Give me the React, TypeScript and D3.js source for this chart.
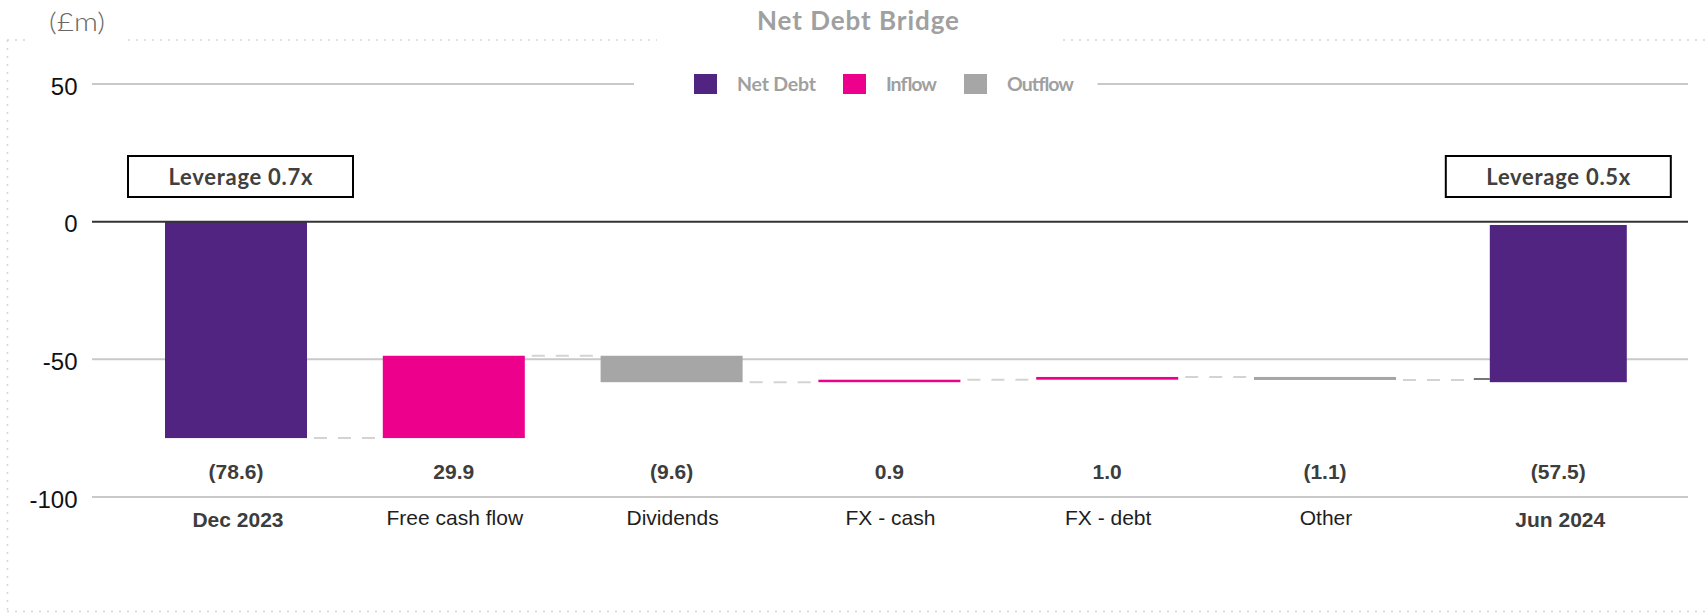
import React from "react";
import * as d3 from "d3";

// ---- data ----
const categories = ["Dec 2023", "Free cash flow", "Dividends", "FX - cash", "FX - debt", "Other", "Jun 2024"];
const valueLabels = ["(78.6)", "29.9", "(9.6)", "0.9", "1.0", "(1.1)", "(57.5)"];
const barStart = [0, -78.6, -48.7, -58.3, -57.4, -56.4, -1.2];
const barEnd = [-78.6, -48.7, -58.3, -57.4, -56.4, -57.5, -58.3];
const barKind = ["Net Debt", "Inflow", "Outflow", "Inflow", "Inflow", "Outflow", "Net Debt"];
const totalCategories = ["Dec 2023", "Jun 2024"];
const yTicks = [50, 0, -50, -100];
const yTickLabels = ["50", "0", "-50", "-100"];
const legendNames = ["Net Debt", "Inflow", "Outflow"];
const leverageCategories = ["Dec 2023", "Jun 2024"];
const leverageLabels = ["Leverage 0.7x", "Leverage 0.5x"];
const title = "Net Debt Bridge";
const unitLabel = "(£m)";

const colors: Record<string, string> = {
  "Net Debt": "#512481",
  Inflow: "#ec008c",
  Outflow: "#a6a6a6",
};

const W = 1707;
const H = 613;

export default function App() {
  const y = d3.scaleLinear().domain([-100, 50]).range([497, 84]);
  const idx = d3.scaleLinear().domain([0, 5, 6]).range([236, 1325, 1558.3]);
  const xc = (c: string) => idx(categories.indexOf(c));
  const barW = (c: string) => (c === "Jun 2024" ? 137 : 142);

  const gridLeft = 92;
  const gridRight = 1688;

  const legendWidths = [79, 51, 67];
  const legendItems: { name: string; sx: number; tx: number; w: number }[] = [];
  let lx = 694;
  legendNames.forEach((n, i) => {
    legendItems.push({ name: n, sx: lx, tx: lx + 43, w: legendWidths[i] });
    lx = lx + 43 + legendWidths[i] + 27;
  });

  const centuryFont = "Lato, 'Noto Sans', sans-serif";
  const arialFont = "'Liberation Sans', Arial, sans-serif";

  return (
    <svg
      width={W}
      height={H}
      viewBox={`0 0 ${W} ${H}`}
      style={{ position: "absolute", left: 0, top: 0, background: "#fff" }}
    >
      {/* faint slide dotted frame */}
      <g stroke="#d6d6d6" strokeWidth={1.5} strokeDasharray="2,6" fill="none">
        <line x1={7} y1={40} x2={27} y2={40} />
        <line x1={128} y1={40} x2={657} y2={40} />
        <line x1={1063} y1={40} x2={W} y2={40} />
        <line x1={7.5} y1={40} x2={7.5} y2={612} />
        <line x1={7} y1={611.5} x2={W} y2={611.5} />
      </g>

      {/* title + unit */}
      <text
        x={858}
        y={29.5}
        textAnchor="middle"
        fontFamily={centuryFont}
        fontWeight={700}
        fontSize={26}
        fill="#a0a0a0"
        textLength={202}
      >
        {title}
      </text>
      <text
        x={49}
        y={30.5}
        fontFamily={centuryFont}
        fontWeight={300}
        fontSize={26}
        fill="#666"
        textLength={56}
        lengthAdjust="spacingAndGlyphs"
      >
        {unitLabel}
      </text>

      {/* gridlines */}
      {yTicks.map((t, i) => {
        if (t === 0) return null;
        if (t === 50) {
          return (
            <g key={i} stroke="#c9c9c9" strokeWidth={2}>
              <line x1={gridLeft} x2={634} y1={y(t)} y2={y(t)} />
              <line x1={1097.5} x2={gridRight} y1={y(t)} y2={y(t)} />
            </g>
          );
        }
        return <line key={i} x1={gridLeft} x2={gridRight} y1={y(t)} y2={y(t)} stroke="#c9c9c9" strokeWidth={2} />;
      })}

      {/* tick labels */}
      {yTicks.map((t, i) => (
        <text
          key={i}
          x={77.5}
          y={y(t) + 10.5}
          textAnchor="end"
          fontFamily={arialFont}
          fontSize={24}
          fill="#111"
        >
          {yTickLabels[i]}
        </text>
      ))}

      {/* connectors */}
      {categories.slice(0, -1).map((c, i) => {
        const next = categories[i + 1];
        const x1 = xc(c) + barW(c) / 2;
        const x2 = xc(next) - barW(next) / 2;
        const yy = y(barEnd[i]);
        const last = i === categories.length - 2;
        return (
          <g key={i}>
            <line
              x1={x1}
              x2={last ? x2 - 17 : x2}
              y1={yy}
              y2={yy}
              stroke="#d3d3d3"
              strokeWidth={2}
              strokeDasharray="13,11"
              strokeDashoffset={17}
            />
            {last && <line x1={x2 - 16} x2={x2} y1={yy - 1} y2={yy - 1} stroke="#777" strokeWidth={2} />}
          </g>
        );
      })}

      {/* bars */}
      {categories.map((c, i) => {
        const top = Math.max(barStart[i], barEnd[i]);
        const bot = Math.min(barStart[i], barEnd[i]);
        const w = barW(c);
        return (
          <rect
            key={c}
            x={xc(c) - w / 2}
            y={y(top)}
            width={w}
            height={Math.max(1, y(bot) - y(top))}
            fill={colors[barKind[i]]}
          />
        );
      })}

      {/* zero line */}
      <line x1={gridLeft} x2={gridRight} y1={y(0)} y2={y(0)} stroke="#333" strokeWidth={2} />

      {/* value labels */}
      {categories.map((c, i) => (
        <text
          key={c}
          x={xc(c)}
          y={479}
          textAnchor="middle"
          fontFamily={arialFont}
          fontWeight={700}
          fontSize={21}
          fill="#3d3d3d"
        >
          {valueLabels[i]}
        </text>
      ))}

      {/* category labels */}
      {categories.map((c) => {
        const bold = totalCategories.includes(c);
        return (
          <text
            key={c}
            x={xc(c) + (bold ? 2 : 1)}
            y={bold ? 527 : 525}
            textAnchor="middle"
            fontFamily={arialFont}
            fontWeight={bold ? 700 : 400}
            fontSize={21}
            fill={bold ? "#3d3d3d" : "#1e1e1e"}
          >
            {c}
          </text>
        );
      })}

      {/* leverage boxes */}
      {leverageCategories.map((c, i) => {
        const cx = xc(c) + (i === 0 ? 4.5 : 0);
        return (
          <g key={c}>
            <rect x={cx - 112.5} y={156} width={225} height={41} fill="#fff" stroke="#000" strokeWidth={2} />
            <text
              x={cx}
              y={185}
              textAnchor="middle"
              fontFamily={centuryFont}
              fontWeight={700}
              fontSize={22}
              fill="#404040"
              textLength={144}
            >
              {leverageLabels[i]}
            </text>
          </g>
        );
      })}

      {/* legend */}
      {legendItems.map((it) => (
        <g key={it.name}>
          <rect x={it.sx} y={74} width={23} height={20} fill={colors[it.name]} />
          <text
            x={it.tx}
            y={90.5}
            fontFamily={centuryFont}
            fontWeight={700}
            fontSize={19.5}
            fill="#a0a0a0"
            textLength={it.w}
          >
            {it.name}
          </text>
        </g>
      ))}
    </svg>
  );
}
